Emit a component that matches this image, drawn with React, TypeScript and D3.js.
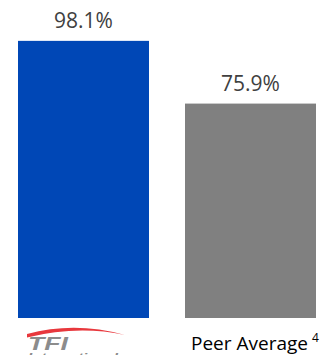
import React from "react";
import * as d3 from "d3";

const categories = ["TFI International", "Peer Average"];
const values = [98.1, 75.9];
const labels = ["98.1%", "75.9%"];
const colors = ["#0047B6", "#808080"];

const W = 322;
const H = 355;

export default function App() {
  const x = d3.scaleBand<string>().domain(categories).range([18, 316]).paddingInner(0.2156).paddingOuter(0);
  const y = d3.scaleLinear().domain([0, 100]).range([318, 35.5]);
  return (
    <svg width={W} height={H} style={{ position: "absolute", left: 0, top: 0, display: "block" }}>
      <rect width={W} height={H} fill="#fff" />
      {categories.map((c, i) => (
        <g key={c}>
          <rect x={x(c)} y={y(values[i])} width={x.bandwidth()} height={y(0) - y(values[i])} fill={colors[i]} />
          <text
            x={(x(c) as number) + x.bandwidth() / 2}
            y={y(values[i]) - 13}
            textAnchor="middle"
            fontFamily="Open Sans, Noto Sans, sans-serif"
            fontSize={21}
            fill="#404040"
          >
            {labels[i]}
          </text>
        </g>
      ))}
      {/* TFI logo */}
      <g>
        <path d="M27,334 Q75,321 125,335 Q78,325 27,337.5 Z" fill="#E8383D" />
        <text x={28} y={350} fontFamily="Liberation Sans, Arial, sans-serif" fontWeight="bold" fontStyle="italic" fontSize={18} fill="#8C8C8C" textLength={40} lengthAdjust="spacingAndGlyphs">
          TFI
        </text>
        <text x={28} y={360.5} fontFamily="Liberation Sans, Arial, sans-serif" fontWeight="bold" fontStyle="italic" fontSize={11} fill="#8C8C8C" textLength={90} lengthAdjust="spacingAndGlyphs">
          International
        </text>
      </g>
      <text x={191} y={350} fontFamily="Open Sans, Noto Sans, sans-serif" fontSize={19} fill="#000">
        {categories[1]}
      </text>
      <text x={312} y={342} fontFamily="Open Sans, Noto Sans, sans-serif" fontSize={12} fill="#000">
        4
      </text>
    </svg>
  );
}
